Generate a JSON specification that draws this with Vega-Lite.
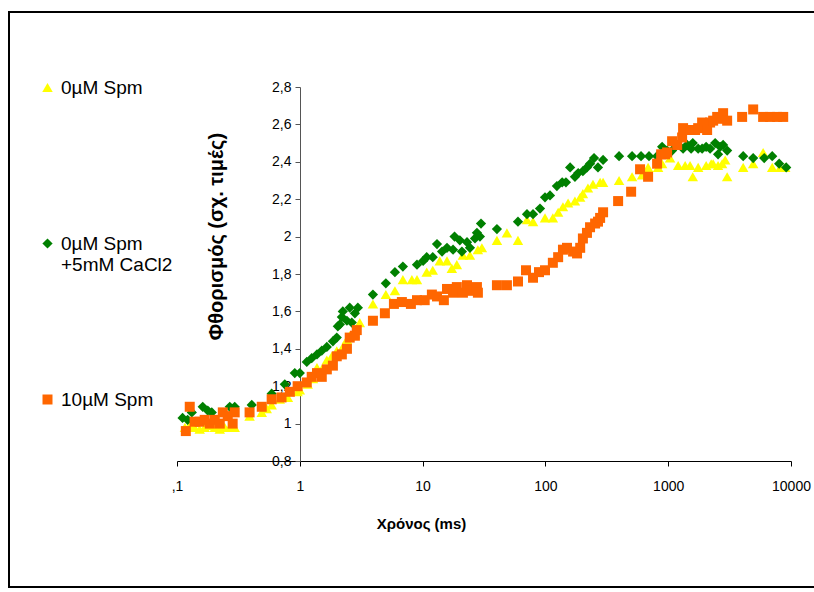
{
  "$schema": "https://vega.github.io/schema/vega-lite/v6.json",
  "width": 810,
  "height": 575,
  "autosize": {"type": "none"},
  "padding": {"left": 9, "top": 12, "right": 0, "bottom": 5},
  "background": "white",
  "config": {
    "view": {"stroke": "#000000", "strokeWidth": 2},
    "font": "Liberation Sans"
  },
  "datasets": {
    "pts": [
      {"g": "0µM Spm", "t": 0.116, "f": 0.98},
      {"g": "0µM Spm", "t": 0.127, "f": 0.99},
      {"g": "0µM Spm", "t": 0.139, "f": 0.98},
      {"g": "0µM Spm", "t": 0.153, "f": 0.97},
      {"g": "0µM Spm", "t": 0.168, "f": 0.98},
      {"g": "0µM Spm", "t": 0.185, "f": 0.99},
      {"g": "0µM Spm", "t": 0.203, "f": 0.98},
      {"g": "0µM Spm", "t": 0.223, "f": 0.97},
      {"g": "0µM Spm", "t": 0.245, "f": 0.98},
      {"g": "0µM Spm", "t": 0.269, "f": 0.98},
      {"g": "0µM Spm", "t": 0.295, "f": 0.98},
      {"g": "0µM Spm", "t": 0.39, "f": 1.04},
      {"g": "0µM Spm", "t": 0.49, "f": 1.06},
      {"g": "0µM Spm", "t": 0.538, "f": 1.08},
      {"g": "0µM Spm", "t": 0.59, "f": 1.10},
      {"g": "0µM Spm", "t": 0.687, "f": 1.13},
      {"g": "0µM Spm", "t": 0.80, "f": 1.14},
      {"g": "0µM Spm", "t": 0.96, "f": 1.17},
      {"g": "0µM Spm", "t": 1.0, "f": 1.18},
      {"g": "0µM Spm", "t": 1.16, "f": 1.21},
      {"g": "0µM Spm", "t": 1.28, "f": 1.24},
      {"g": "0µM Spm", "t": 1.38, "f": 1.30},
      {"g": "0µM Spm", "t": 1.51, "f": 1.29},
      {"g": "0µM Spm", "t": 1.66, "f": 1.34},
      {"g": "0µM Spm", "t": 1.82, "f": 1.36},
      {"g": "0µM Spm", "t": 2.0, "f": 1.39},
      {"g": "0µM Spm", "t": 2.24, "f": 1.41},
      {"g": "0µM Spm", "t": 2.42, "f": 1.45},
      {"g": "0µM Spm", "t": 2.55, "f": 1.47},
      {"g": "0µM Spm", "t": 2.81, "f": 1.48},
      {"g": "0µM Spm", "t": 3.08, "f": 1.54},
      {"g": "0µM Spm", "t": 3.94, "f": 1.64},
      {"g": "0µM Spm", "t": 5.02, "f": 1.69},
      {"g": "0µM Spm", "t": 5.95, "f": 1.71},
      {"g": "0µM Spm", "t": 6.91, "f": 1.77},
      {"g": "0µM Spm", "t": 8.18, "f": 1.77},
      {"g": "0µM Spm", "t": 9.0, "f": 1.77},
      {"g": "0µM Spm", "t": 10.8, "f": 1.81},
      {"g": "0µM Spm", "t": 12.1, "f": 1.82},
      {"g": "0µM Spm", "t": 13.8, "f": 1.87},
      {"g": "0µM Spm", "t": 15.8, "f": 1.87},
      {"g": "0µM Spm", "t": 17.3, "f": 1.83},
      {"g": "0µM Spm", "t": 19.0, "f": 1.85},
      {"g": "0µM Spm", "t": 21.3, "f": 1.90},
      {"g": "0µM Spm", "t": 24.3, "f": 1.90},
      {"g": "0µM Spm", "t": 28.2, "f": 1.93},
      {"g": "0µM Spm", "t": 30.4, "f": 1.94},
      {"g": "0µM Spm", "t": 40.3, "f": 1.98},
      {"g": "0µM Spm", "t": 48.6, "f": 2.02},
      {"g": "0µM Spm", "t": 59.8, "f": 1.98},
      {"g": "0µM Spm", "t": 70.8, "f": 2.09},
      {"g": "0µM Spm", "t": 79.3, "f": 2.08},
      {"g": "0µM Spm", "t": 99.3, "f": 2.10},
      {"g": "0µM Spm", "t": 115, "f": 2.10},
      {"g": "0µM Spm", "t": 127, "f": 2.13},
      {"g": "0µM Spm", "t": 139, "f": 2.16},
      {"g": "0µM Spm", "t": 153, "f": 2.18},
      {"g": "0µM Spm", "t": 174, "f": 2.19},
      {"g": "0µM Spm", "t": 192, "f": 2.21},
      {"g": "0µM Spm", "t": 202, "f": 2.23},
      {"g": "0µM Spm", "t": 222, "f": 2.26},
      {"g": "0µM Spm", "t": 244, "f": 2.28},
      {"g": "0µM Spm", "t": 279, "f": 2.29},
      {"g": "0µM Spm", "t": 295, "f": 2.29},
      {"g": "0µM Spm", "t": 398, "f": 2.30},
      {"g": "0µM Spm", "t": 508, "f": 2.32},
      {"g": "0µM Spm", "t": 613, "f": 2.33},
      {"g": "0µM Spm", "t": 686, "f": 2.37},
      {"g": "0µM Spm", "t": 827, "f": 2.37},
      {"g": "0µM Spm", "t": 892, "f": 2.39},
      {"g": "0µM Spm", "t": 1036, "f": 2.42},
      {"g": "0µM Spm", "t": 1205, "f": 2.38},
      {"g": "0µM Spm", "t": 1374, "f": 2.38},
      {"g": "0µM Spm", "t": 1507, "f": 2.38},
      {"g": "0µM Spm", "t": 1585, "f": 2.32},
      {"g": "0µM Spm", "t": 1754, "f": 2.37},
      {"g": "0µM Spm", "t": 2037, "f": 2.38},
      {"g": "0µM Spm", "t": 2240, "f": 2.39},
      {"g": "0µM Spm", "t": 2323, "f": 2.39},
      {"g": "0µM Spm", "t": 2547, "f": 2.38},
      {"g": "0µM Spm", "t": 2748, "f": 2.39},
      {"g": "0µM Spm", "t": 2910, "f": 2.41},
      {"g": "0µM Spm", "t": 3020, "f": 2.32},
      {"g": "0µM Spm", "t": 4080, "f": 2.37},
      {"g": "0µM Spm", "t": 4920, "f": 2.39},
      {"g": "0µM Spm", "t": 5930, "f": 2.45},
      {"g": "0µM Spm", "t": 7030, "f": 2.37},
      {"g": "0µM Spm", "t": 8170, "f": 2.37},
      {"g": "0µM Spm", "t": 8970, "f": 2.37},

      {"g": "0µM Spm +5mM CaCl2", "t": 0.111, "f": 1.03},
      {"g": "0µM Spm +5mM CaCl2", "t": 0.122, "f": 1.02},
      {"g": "0µM Spm +5mM CaCl2", "t": 0.132, "f": 1.06},
      {"g": "0µM Spm +5mM CaCl2", "t": 0.162, "f": 1.09},
      {"g": "0µM Spm +5mM CaCl2", "t": 0.178, "f": 1.07},
      {"g": "0µM Spm +5mM CaCl2", "t": 0.192, "f": 1.06},
      {"g": "0µM Spm +5mM CaCl2", "t": 0.269, "f": 1.09},
      {"g": "0µM Spm +5mM CaCl2", "t": 0.295, "f": 1.09},
      {"g": "0µM Spm +5mM CaCl2", "t": 0.406, "f": 1.10},
      {"g": "0µM Spm +5mM CaCl2", "t": 0.59, "f": 1.16},
      {"g": "0µM Spm +5mM CaCl2", "t": 0.755, "f": 1.21},
      {"g": "0µM Spm +5mM CaCl2", "t": 0.91, "f": 1.27},
      {"g": "0µM Spm +5mM CaCl2", "t": 1.0, "f": 1.27},
      {"g": "0µM Spm +5mM CaCl2", "t": 1.14, "f": 1.33},
      {"g": "0µM Spm +5mM CaCl2", "t": 1.25, "f": 1.35},
      {"g": "0µM Spm +5mM CaCl2", "t": 1.38, "f": 1.37},
      {"g": "0µM Spm +5mM CaCl2", "t": 1.51, "f": 1.39},
      {"g": "0µM Spm +5mM CaCl2", "t": 1.66, "f": 1.41},
      {"g": "0µM Spm +5mM CaCl2", "t": 1.86, "f": 1.44},
      {"g": "0µM Spm +5mM CaCl2", "t": 2.0, "f": 1.46},
      {"g": "0µM Spm +5mM CaCl2", "t": 2.04, "f": 1.52},
      {"g": "0µM Spm +5mM CaCl2", "t": 2.12, "f": 1.53},
      {"g": "0µM Spm +5mM CaCl2", "t": 2.2, "f": 1.57},
      {"g": "0µM Spm +5mM CaCl2", "t": 2.24, "f": 1.60},
      {"g": "0µM Spm +5mM CaCl2", "t": 2.42, "f": 1.55},
      {"g": "0µM Spm +5mM CaCl2", "t": 2.55, "f": 1.62},
      {"g": "0µM Spm +5mM CaCl2", "t": 2.65, "f": 1.54},
      {"g": "0µM Spm +5mM CaCl2", "t": 2.81, "f": 1.59},
      {"g": "0µM Spm +5mM CaCl2", "t": 2.97, "f": 1.62},
      {"g": "0µM Spm +5mM CaCl2", "t": 3.94, "f": 1.69},
      {"g": "0µM Spm +5mM CaCl2", "t": 5.02, "f": 1.75},
      {"g": "0µM Spm +5mM CaCl2", "t": 5.95, "f": 1.81},
      {"g": "0µM Spm +5mM CaCl2", "t": 6.91, "f": 1.84},
      {"g": "0µM Spm +5mM CaCl2", "t": 9.0, "f": 1.85},
      {"g": "0µM Spm +5mM CaCl2", "t": 10.1, "f": 1.87},
      {"g": "0µM Spm +5mM CaCl2", "t": 10.8, "f": 1.89},
      {"g": "0µM Spm +5mM CaCl2", "t": 12.1, "f": 1.89},
      {"g": "0µM Spm +5mM CaCl2", "t": 13.1, "f": 1.96},
      {"g": "0µM Spm +5mM CaCl2", "t": 14.4, "f": 1.92},
      {"g": "0µM Spm +5mM CaCl2", "t": 15.8, "f": 1.94},
      {"g": "0µM Spm +5mM CaCl2", "t": 17.7, "f": 1.93},
      {"g": "0µM Spm +5mM CaCl2", "t": 18.2, "f": 2.00},
      {"g": "0µM Spm +5mM CaCl2", "t": 20.1, "f": 1.98},
      {"g": "0µM Spm +5mM CaCl2", "t": 20.9, "f": 1.92},
      {"g": "0µM Spm +5mM CaCl2", "t": 23.0, "f": 1.97},
      {"g": "0µM Spm +5mM CaCl2", "t": 24.3, "f": 1.94},
      {"g": "0µM Spm +5mM CaCl2", "t": 26.7, "f": 1.99},
      {"g": "0µM Spm +5mM CaCl2", "t": 27.7, "f": 2.02},
      {"g": "0µM Spm +5mM CaCl2", "t": 29.3, "f": 2.00},
      {"g": "0µM Spm +5mM CaCl2", "t": 29.9, "f": 2.07},
      {"g": "0µM Spm +5mM CaCl2", "t": 40.3, "f": 2.04},
      {"g": "0µM Spm +5mM CaCl2", "t": 59.8, "f": 2.08},
      {"g": "0µM Spm +5mM CaCl2", "t": 70.8, "f": 2.12},
      {"g": "0µM Spm +5mM CaCl2", "t": 79.3, "f": 2.12},
      {"g": "0µM Spm +5mM CaCl2", "t": 90.4, "f": 2.15},
      {"g": "0µM Spm +5mM CaCl2", "t": 99.3, "f": 2.21},
      {"g": "0µM Spm +5mM CaCl2", "t": 109, "f": 2.22},
      {"g": "0µM Spm +5mM CaCl2", "t": 124, "f": 2.27},
      {"g": "0µM Spm +5mM CaCl2", "t": 137, "f": 2.29},
      {"g": "0µM Spm +5mM CaCl2", "t": 147, "f": 2.29},
      {"g": "0µM Spm +5mM CaCl2", "t": 159, "f": 2.37},
      {"g": "0µM Spm +5mM CaCl2", "t": 174, "f": 2.32},
      {"g": "0µM Spm +5mM CaCl2", "t": 185, "f": 2.34},
      {"g": "0µM Spm +5mM CaCl2", "t": 202, "f": 2.35},
      {"g": "0µM Spm +5mM CaCl2", "t": 218, "f": 2.37},
      {"g": "0µM Spm +5mM CaCl2", "t": 231, "f": 2.39},
      {"g": "0µM Spm +5mM CaCl2", "t": 249, "f": 2.42},
      {"g": "0µM Spm +5mM CaCl2", "t": 268, "f": 2.37},
      {"g": "0µM Spm +5mM CaCl2", "t": 295, "f": 2.41},
      {"g": "0µM Spm +5mM CaCl2", "t": 398, "f": 2.43},
      {"g": "0µM Spm +5mM CaCl2", "t": 508, "f": 2.43},
      {"g": "0µM Spm +5mM CaCl2", "t": 601, "f": 2.43},
      {"g": "0µM Spm +5mM CaCl2", "t": 698, "f": 2.43},
      {"g": "0µM Spm +5mM CaCl2", "t": 812, "f": 2.43},
      {"g": "0µM Spm +5mM CaCl2", "t": 892, "f": 2.48},
      {"g": "0µM Spm +5mM CaCl2", "t": 980, "f": 2.46},
      {"g": "0µM Spm +5mM CaCl2", "t": 1076, "f": 2.46},
      {"g": "0µM Spm +5mM CaCl2", "t": 1322, "f": 2.47},
      {"g": "0µM Spm +5mM CaCl2", "t": 1426, "f": 2.49},
      {"g": "0µM Spm +5mM CaCl2", "t": 1537, "f": 2.47},
      {"g": "0µM Spm +5mM CaCl2", "t": 1585, "f": 2.50},
      {"g": "0µM Spm +5mM CaCl2", "t": 1754, "f": 2.47},
      {"g": "0µM Spm +5mM CaCl2", "t": 1889, "f": 2.47},
      {"g": "0µM Spm +5mM CaCl2", "t": 2037, "f": 2.48},
      {"g": "0µM Spm +5mM CaCl2", "t": 2194, "f": 2.47},
      {"g": "0µM Spm +5mM CaCl2", "t": 2412, "f": 2.50},
      {"g": "0µM Spm +5mM CaCl2", "t": 2547, "f": 2.44},
      {"g": "0µM Spm +5mM CaCl2", "t": 2649, "f": 2.48},
      {"g": "0µM Spm +5mM CaCl2", "t": 2800, "f": 2.49},
      {"g": "0µM Spm +5mM CaCl2", "t": 3020, "f": 2.46},
      {"g": "0µM Spm +5mM CaCl2", "t": 4080, "f": 2.43},
      {"g": "0µM Spm +5mM CaCl2", "t": 4920, "f": 2.42},
      {"g": "0µM Spm +5mM CaCl2", "t": 6050, "f": 2.42},
      {"g": "0µM Spm +5mM CaCl2", "t": 7030, "f": 2.43},
      {"g": "0µM Spm +5mM CaCl2", "t": 8010, "f": 2.39},
      {"g": "0µM Spm +5mM CaCl2", "t": 9140, "f": 2.37},

      {"g": "10µM Spm", "t": 0.118, "f": 0.96},
      {"g": "10µM Spm", "t": 0.127, "f": 1.09},
      {"g": "10µM Spm", "t": 0.139, "f": 1.01},
      {"g": "10µM Spm", "t": 0.153, "f": 1.01},
      {"g": "10µM Spm", "t": 0.168, "f": 1.02},
      {"g": "10µM Spm", "t": 0.185, "f": 1.00},
      {"g": "10µM Spm", "t": 0.203, "f": 1.02},
      {"g": "10µM Spm", "t": 0.223, "f": 1.00},
      {"g": "10µM Spm", "t": 0.236, "f": 1.06},
      {"g": "10µM Spm", "t": 0.259, "f": 1.04},
      {"g": "10µM Spm", "t": 0.284, "f": 1.00},
      {"g": "10µM Spm", "t": 0.295, "f": 1.06},
      {"g": "10µM Spm", "t": 0.39, "f": 1.06},
      {"g": "10µM Spm", "t": 0.49, "f": 1.09},
      {"g": "10µM Spm", "t": 0.59, "f": 1.13},
      {"g": "10µM Spm", "t": 0.71, "f": 1.14},
      {"g": "10µM Spm", "t": 0.83, "f": 1.17},
      {"g": "10µM Spm", "t": 0.96, "f": 1.20},
      {"g": "10µM Spm", "t": 1.14, "f": 1.22},
      {"g": "10µM Spm", "t": 1.25, "f": 1.25},
      {"g": "10µM Spm", "t": 1.38, "f": 1.27},
      {"g": "10µM Spm", "t": 1.51, "f": 1.25},
      {"g": "10µM Spm", "t": 1.66, "f": 1.29},
      {"g": "10µM Spm", "t": 1.86, "f": 1.31},
      {"g": "10µM Spm", "t": 2.0, "f": 1.36},
      {"g": "10µM Spm", "t": 2.2, "f": 1.37},
      {"g": "10µM Spm", "t": 2.42, "f": 1.40},
      {"g": "10µM Spm", "t": 2.55, "f": 1.46},
      {"g": "10µM Spm", "t": 2.81, "f": 1.47},
      {"g": "10µM Spm", "t": 2.91, "f": 1.50},
      {"g": "10µM Spm", "t": 3.94, "f": 1.55},
      {"g": "10µM Spm", "t": 4.93, "f": 1.59},
      {"g": "10µM Spm", "t": 5.84, "f": 1.64},
      {"g": "10µM Spm", "t": 6.78, "f": 1.65},
      {"g": "10µM Spm", "t": 8.03, "f": 1.64},
      {"g": "10µM Spm", "t": 9.0, "f": 1.66},
      {"g": "10µM Spm", "t": 10.4, "f": 1.66},
      {"g": "10µM Spm", "t": 11.9, "f": 1.69},
      {"g": "10µM Spm", "t": 13.1, "f": 1.68},
      {"g": "10µM Spm", "t": 14.9, "f": 1.66},
      {"g": "10µM Spm", "t": 15.8, "f": 1.72},
      {"g": "10µM Spm", "t": 17.7, "f": 1.70},
      {"g": "10µM Spm", "t": 19.0, "f": 1.73},
      {"g": "10µM Spm", "t": 21.3, "f": 1.70},
      {"g": "10µM Spm", "t": 23.0, "f": 1.74},
      {"g": "10µM Spm", "t": 25.2, "f": 1.71},
      {"g": "10µM Spm", "t": 27.7, "f": 1.73},
      {"g": "10µM Spm", "t": 28.2, "f": 1.70},
      {"g": "10µM Spm", "t": 40.3, "f": 1.74},
      {"g": "10µM Spm", "t": 48.6, "f": 1.74},
      {"g": "10µM Spm", "t": 59.8, "f": 1.76},
      {"g": "10µM Spm", "t": 69.5, "f": 1.82},
      {"g": "10µM Spm", "t": 79.3, "f": 1.78},
      {"g": "10µM Spm", "t": 88.7, "f": 1.81},
      {"g": "10µM Spm", "t": 99.3, "f": 1.82},
      {"g": "10µM Spm", "t": 115, "f": 1.86},
      {"g": "10µM Spm", "t": 127, "f": 1.89},
      {"g": "10µM Spm", "t": 139, "f": 1.93},
      {"g": "10µM Spm", "t": 150, "f": 1.94},
      {"g": "10µM Spm", "t": 168, "f": 1.92},
      {"g": "10µM Spm", "t": 181, "f": 1.91},
      {"g": "10µM Spm", "t": 192, "f": 1.94},
      {"g": "10µM Spm", "t": 202, "f": 1.99},
      {"g": "10µM Spm", "t": 218, "f": 2.02},
      {"g": "10µM Spm", "t": 231, "f": 2.05},
      {"g": "10µM Spm", "t": 254, "f": 2.07},
      {"g": "10µM Spm", "t": 268, "f": 2.08},
      {"g": "10µM Spm", "t": 279, "f": 2.10},
      {"g": "10µM Spm", "t": 295, "f": 2.13},
      {"g": "10µM Spm", "t": 391, "f": 2.19},
      {"g": "10µM Spm", "t": 499, "f": 2.24},
      {"g": "10µM Spm", "t": 590, "f": 2.36},
      {"g": "10µM Spm", "t": 686, "f": 2.32},
      {"g": "10µM Spm", "t": 812, "f": 2.39},
      {"g": "10µM Spm", "t": 876, "f": 2.44},
      {"g": "10µM Spm", "t": 944, "f": 2.44},
      {"g": "10µM Spm", "t": 980, "f": 2.45},
      {"g": "10µM Spm", "t": 1076, "f": 2.51},
      {"g": "10µM Spm", "t": 1183, "f": 2.49},
      {"g": "10µM Spm", "t": 1298, "f": 2.53},
      {"g": "10µM Spm", "t": 1322, "f": 2.58},
      {"g": "10µM Spm", "t": 1507, "f": 2.57},
      {"g": "10µM Spm", "t": 1656, "f": 2.57},
      {"g": "10µM Spm", "t": 1754, "f": 2.58},
      {"g": "10µM Spm", "t": 1889, "f": 2.61},
      {"g": "10µM Spm", "t": 2075, "f": 2.57},
      {"g": "10µM Spm", "t": 2194, "f": 2.61},
      {"g": "10µM Spm", "t": 2323, "f": 2.62},
      {"g": "10µM Spm", "t": 2505, "f": 2.64},
      {"g": "10µM Spm", "t": 2649, "f": 2.63},
      {"g": "10µM Spm", "t": 2800, "f": 2.66},
      {"g": "10µM Spm", "t": 3020, "f": 2.62},
      {"g": "10µM Spm", "t": 4000, "f": 2.64},
      {"g": "10µM Spm", "t": 4920, "f": 2.68},
      {"g": "10µM Spm", "t": 5930, "f": 2.64},
      {"g": "10µM Spm", "t": 6760, "f": 2.64},
      {"g": "10µM Spm", "t": 7720, "f": 2.64},
      {"g": "10µM Spm", "t": 8640, "f": 2.64}
    ]
  },
  "data": {"name": "pts"},
  "mark": {"type": "point", "filled": true, "opacity": 1},
  "encoding": {
    "x": {
      "field": "t",
      "type": "quantitative",
      "scale": {"type": "log", "domain": [0.1, 10000], "range": [168, 782], "nice": false},
      "axis": {
        "orient": "bottom",
        "offset": -126,
        "values": [0.1, 1, 10, 100, 1000, 10000],
        "labelExpr": "datum.value < 0.5 ? ',1' : format(datum.value, 'd')",
        "labelFlush": false,
        "labelOverlap": false,
        "grid": false,
        "domainColor": "#000000",
        "tickColor": "#000000",
        "tickSize": 5,
        "labelFont": "Liberation Sans",
        "labelFontSize": 14,
        "labelColor": "#000000",
        "labelPadding": 13,
        "title": "Χρόνος (ms)",
        "titleFont": "Liberation Sans",
        "titleFontWeight": "bold",
        "titleFontSize": 15,
        "titleColor": "#000000",
        "titleX": 412,
        "titleY": 62,
        "titleBaseline": "middle",
        "titleAlign": "center"
      }
    },
    "y": {
      "field": "f",
      "type": "quantitative",
      "scale": {"domain": [0.8, 2.8], "range": [449, 75], "nice": false, "zero": false},
      "axis": {
        "orient": "left",
        "offset": -291,
        "values": [0.8, 1, 1.2, 1.4, 1.6, 1.8, 2, 2.2, 2.4, 2.6, 2.8],
        "labelExpr": "datum.value == round(datum.value) ? format(datum.value, 'd') : replace(format(datum.value, '.1f'), '.', ',')",
        "labelOverlap": false,
        "grid": false,
        "domainColor": "#555555",
        "tickColor": "#555555",
        "tickSize": 5,
        "labelFont": "Liberation Sans",
        "labelFontSize": 14,
        "labelColor": "#000000",
        "labelPadding": 4,
        "title": "Φθορισμός (σχ. τιμές)",
        "titleFont": "Liberation Sans",
        "titleFontWeight": "bold",
        "titleFontSize": 20,
        "titleColor": "#000000",
        "titleAngle": -90,
        "titleX": -84,
        "titleY": 224,
        "titleBaseline": "middle",
        "titleAlign": "center"
      }
    },
    "color": {
      "field": "g",
      "type": "nominal",
      "scale": {"domain": ["0µM Spm", "0µM Spm +5mM CaCl2", "10µM Spm"], "range": ["#FFFF00", "#008000", "#FF6600"]},
      "legend": {
        "title": null,
        "orient": "none",
        "legendX": 29,
        "legendY": 66,
        "padding": 0,
        "labelFont": "Liberation Sans",
        "labelFontSize": 19,
        "labelColor": "#000000",
        "labelLimit": 300,
        "labelOffset": 4,
        "symbolSize": 55,
        "symbolStrokeWidth": 0,
        "rowPadding": 115,
        "labelExpr": "datum.label == '0µM Spm +5mM CaCl2' ? ['0µM Spm', '+5mM CaCl2'] : datum.label == '0µM Spm' ? ['0µM Spm', ' '] : datum.label",
        "encode": {"labels": {"update": {"lineHeight": {"value": 25}}}}
      }
    },
    "shape": {
      "field": "g",
      "type": "nominal",
      "scale": {"domain": ["0µM Spm", "0µM Spm +5mM CaCl2", "10µM Spm"], "range": ["triangle-up", "diamond", "square"]}
    },
    "size": {
      "field": "g",
      "type": "nominal",
      "scale": {"domain": ["0µM Spm", "0µM Spm +5mM CaCl2", "10µM Spm"], "range": [110, 100, 66]},
      "legend": null
    }
  }
}
